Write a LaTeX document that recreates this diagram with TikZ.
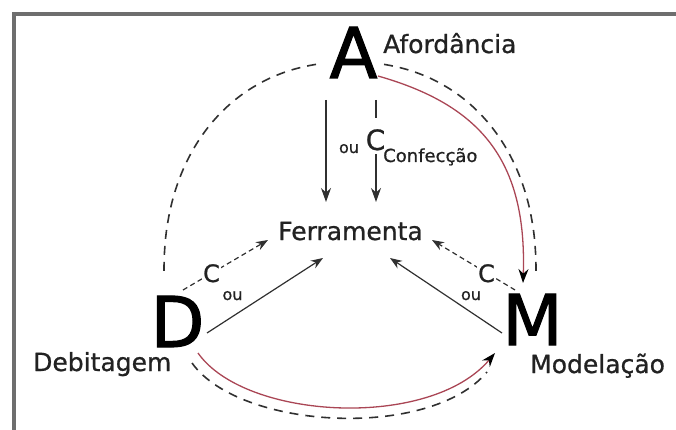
\documentclass[tikz,border=0pt]{standalone}
\usepackage{fontspec}
\setmainfont{DejaVu Sans}
\newfontfamily\heavyfont[FakeBold=1.6]{DejaVu Sans}
\newfontfamily\lblfont[FakeBold=0.8]{DejaVu Sans}
\usetikzlibrary{arrows.meta}
\definecolor{framegray}{HTML}{6E6E6E}
\definecolor{ink}{HTML}{222222}
\definecolor{linegray}{HTML}{303030}
\definecolor{arcred}{RGB}{170,70,85}
\begin{document}
\begin{tikzpicture}[x=1pt,y=-1pt,
  bigletter/.style={inner sep=0pt, font=\heavyfont\fontsize{70}{70}\selectfont, anchor=base},
  namelbl/.style={inner sep=0pt, font=\lblfont\fontsize{25}{25}\selectfont, text=ink, anchor=base west},
  clbl/.style={inner sep=1pt, fill=white, text=ink, anchor=base},
  oulbl/.style={inner sep=0pt, font=\lblfont\fontsize{16}{16}\selectfont, text=ink, anchor=base},
  bigtip/.style={-{Stealth[length=14pt,width=10pt]}},
  smalltip/.style={-{Stealth[length=12pt,width=9pt]}},
  conn/.style={draw=linegray, line width=1.2pt},
  dashconn/.style={draw=linegray, line width=1.2pt, dash pattern=on 5pt off 3.5pt},
  darc/.style={draw=linegray, line width=1.6pt, dash pattern=on 9pt off 7pt},
  redarc/.style={draw=arcred, line width=1.3pt, -{Stealth[length=14pt,width=10pt,color=black]}}
]
\useasboundingbox (0,0) rectangle (676,430);
% frame
\draw[framegray, line width=3.5pt] (14,432) -- (14,14) -- (678,14);

% main nodes
\node[bigletter] (A) at (353.5,78) {A};
\node[bigletter] (D) at (177.5,347) {D};
\node[bigletter] (M) at (532.5,345) {M};
\node[inner sep=0pt, font=\lblfont\fontsize{25}{25}\selectfont, text=ink, anchor=base] (F) at (350.5,240) {Ferramenta};

% names
\node[namelbl] (afo) at (383,53) {Afordância};
\node[namelbl] (deb) at (33,371) {Debitagem};
\node[namelbl] (mod) at (530,373) {Modelação};

% connector end points
\coordinate (a1) at (326,100);
\coordinate (f1) at (326,202);
\coordinate (a2) at (376,100);
\coordinate (f2) at (376,202);
\coordinate (d1) at (207,333);
\coordinate (f3) at (323,258);
\coordinate (m1) at (502,333);
\coordinate (f4) at (390,258);
\coordinate (d2) at (183,290);
\coordinate (f5) at (268,240);
\coordinate (m2) at (515,290);
\coordinate (f6) at (432,240);
\coordinate (aR) at (378,76);
\coordinate (mT) at (523,283);
\coordinate (dB) at (198,353);
\coordinate (mB) at (495,353);
\coordinate (dB2) at (192,363);
\coordinate (mB2) at (487,372);

% straight connectors to Ferramenta
\draw[conn, bigtip] (a1) -- (f1);
\draw[conn, bigtip, dash pattern=on 18pt off 36pt on 80pt] (a2) -- (f2);
\draw[conn, smalltip] (d1) -- (f3);
\draw[conn, smalltip] (m1) -- (f4);
\draw[dashconn, smalltip] (d2) -- (f5);
\draw[dashconn, smalltip] (m2) -- (f6);

% dashed arcs A-D and A-M
\draw[darc] plot[domain=81:0.01, samples=60] ({350-186*cos(\x)^0.92}, {272-210*sin(\x)^0.92});
\draw[darc] plot[domain=81:0.01, samples=60] ({350+186*cos(\x)^0.92}, {272-210*sin(\x)^0.92});

% red arcs
\draw[redarc] (aR) .. controls (480,105) and (527,160) .. (mT);
\draw[redarc] (dB) .. controls (245,420) and (430,430) .. (mB);
% dashed bottom arc
\draw[darc] (dB2) .. controls (240,430) and (430,440) .. (mB2);

% C and ou labels
\node[clbl, inner sep=0pt, fill=none, font=\lblfont\fontsize{28}{28}\selectfont] (ctop) at (375.5,150) {C};
\node[inner sep=0pt, font=\lblfont\fontsize{18}{18}\selectfont, text=ink, anchor=base west] (conf) at (383,162) {Confecção};
\node[oulbl] (outop) at (349,153) {ou};
\node[clbl, font=\lblfont\fontsize{24}{24}\selectfont] (cd) at (211.5,282) {C};
\node[oulbl] (oud) at (232.5,300) {ou};
\node[clbl, font=\lblfont\fontsize{24}{24}\selectfont] (cm) at (486.5,282) {C};
\node[oulbl] (oum) at (471,300) {ou};
\end{tikzpicture}
\end{document}
